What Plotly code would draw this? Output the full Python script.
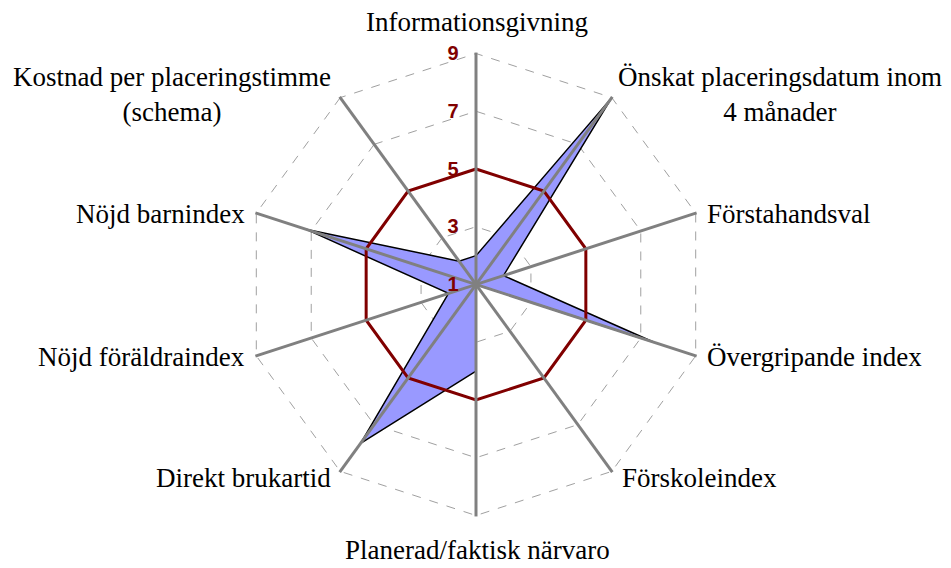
import plotly.graph_objects as go

categories = [
    "Informationsgivning",
    "Önskat placeringsdatum inom 4 månader",
    "Förstahandsval",
    "Övergripande index",
    "Förskoleindex",
    "Planerad/faktisk närvaro",
    "Direkt brukartid",
    "Nöjd föräldraindex",
    "Nöjd barnindex",
    "Kostnad per placeringstimme (schema)",
]
category_labels = [
    "Informationsgivning",
    "Önskat placeringsdatum inom<br>4 månader",
    "Förstahandsval",
    "Övergripande index",
    "Förskoleindex",
    "Planerad/faktisk närvaro",
    "Direkt brukartid",
    "Nöjd föräldraindex",
    "Nöjd barnindex",
    "Kostnad per placeringstimme<br>(schema)",
]
actual_values = [2, 9, 2, 7.5, 1, 4, 7.8, 2, 7.2, 2]
target_values = [5, 5, 5, 5, 5, 5, 5, 5, 5, 5]
radial_ticks = [1, 3, 5, 7, 9]

# label placement (page pixels) and anchors
label_pos = [
    (477, 22, "center"),
    (780, 94, "center"),
    (705, 214, "left"),
    (705, 357, "left"),
    (620, 478, "left"),
    (477, 550, "center"),
    (333, 478, "right"),
    (247, 357, "right"),
    (247, 214, "right"),
    (172, 94, "center"),
]

theta_closed = categories + categories[:1]

fig = go.Figure()
fig.add_trace(go.Scatterpolar(
    r=actual_values + actual_values[:1],
    theta=theta_closed,
    mode="lines",
    fill="toself",
    fillcolor="#9999FF",
    line=dict(color="#000000", width=1.5),
    showlegend=False,
))
fig.add_trace(go.Scatterpolar(
    r=target_values + target_values[:1],
    theta=theta_closed,
    mode="lines",
    line=dict(color="#800000", width=3),
    showlegend=False,
))

W, H = 951, 568
OFF = 8  # page body margin
RMAX = 9.05
R = 231 * (RMAX - 1) / 8
cx, cy = 476 - OFF, 284.5 - OFF

annotations = []
for text, (px, py, anchor) in zip(category_labels, label_pos):
    annotations.append(dict(
        x=(px - OFF) / W, y=1 - (py - OFF) / H,
        xref="paper", yref="paper",
        text=text, showarrow=False,
        xanchor=anchor, yanchor="middle", align="center",
        font=dict(family="Liberation Serif", size=27, color="black"),
    ))

fig.update_layout(
    width=W, height=H,
    margin=dict(l=0, r=0, t=0, b=0),
    paper_bgcolor="white",
    plot_bgcolor="white",
    font=dict(family="Liberation Serif", size=27, color="black"),
    annotations=annotations,
    polar=dict(
        bgcolor="white",
        gridshape="linear",
        domain=dict(x=[(cx - R) / W, (cx + R) / W],
                    y=[(H - cy - R) / H, (H - cy + R) / H]),
        radialaxis=dict(
            range=[1, RMAX],
            tickmode="array",
            tickvals=radial_ticks,
            ticktext=[str(v) for v in radial_ticks],
            angle=90,
            tickangle=90,
            side="counterclockwise",
            showline=False,
            ticks="outside",
            ticklen=10,
            tickcolor="rgba(0,0,0,0)",
            showgrid=True,
            gridcolor="#A0A0A0",
            griddash="dash",
            gridwidth=1,
            tickfont=dict(family="Liberation Sans", size=20, color="#800000", weight="bold"),
            layer="above traces",
        ),
        angularaxis=dict(
            direction="clockwise",
            rotation=90,
            type="category",
            categoryorder="array",
            categoryarray=categories,
            showticklabels=False,
            showgrid=False,
            showline=False,
            ticks="inside",
            ticklen=R,
            tickwidth=3,
            tickcolor="#808080",
            layer="above traces",
        ),
    ),
)

fig.write_html("out.html")
